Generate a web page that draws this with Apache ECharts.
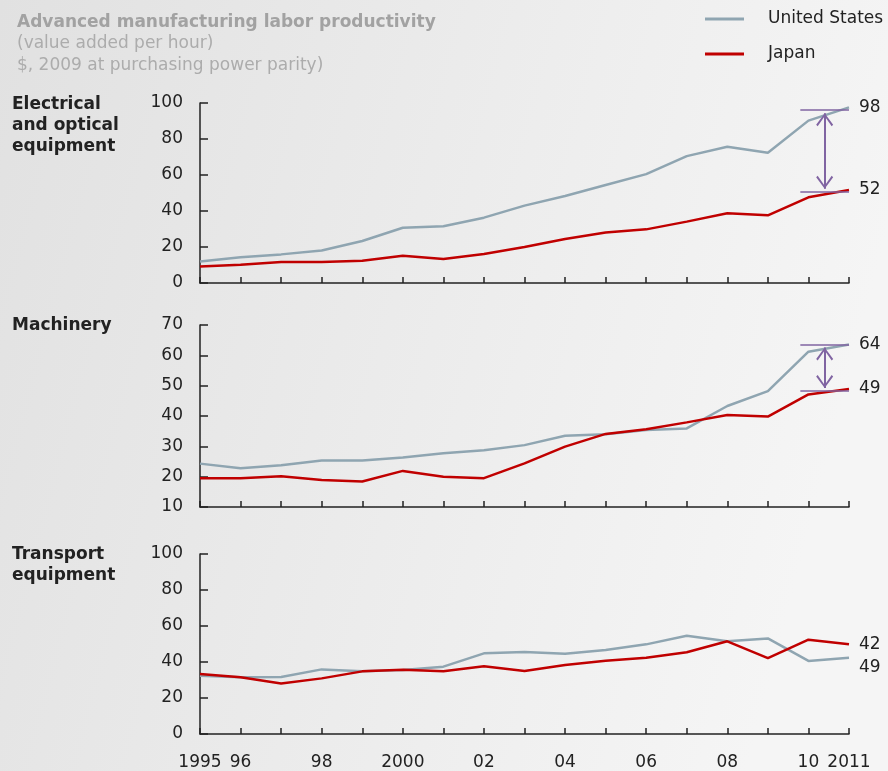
<!DOCTYPE html>
<html>
<head>
<meta charset="utf-8">
<script src="https://cdn.jsdelivr.net/npm/echarts@6/dist/echarts.min.js"></script>
<style>
  html, body { margin: 0; padding: 0; }
  #main { width: 888px; height: 771px; }
</style>
</head>
<body>
<div id="main"></div>
<script>
var years = [1995, 1996, 1997, 1998, 1999, 2000, 2001, 2002, 2003, 2004, 2005, 2006, 2007, 2008, 2009, 2010, 2011];
var xTickLabels = ['1995', '96', '', '98', '', '2000', '', '02', '', '04', '', '06', '', '08', '', '10', '2011'];
var panelNames = ['Electrical\nand optical\nequipment', 'Machinery', 'Transport\nequipment'];

var elecUS = [12, 14.3, 15.9, 18.1, 23.3, 30.7, 31.5, 36.3, 43, 48.3, 54.4, 60.5, 70.5, 75.7, 72.4, 90.2, 97.6];
var elecJP = [9.1, 10.2, 11.7, 11.7, 12.4, 15.2, 13.3, 16.1, 20, 24.4, 28.1, 29.8, 34.1, 38.7, 37.6, 47.6, 51.7];
var machUS = [24.3, 22.8, 23.8, 25.3, 25.3, 26.3, 27.7, 28.7, 30.4, 33.5, 34.0, 35.4, 35.9, 43.3, 48.2, 61.2, 63.6];
var machJP = [19.5, 19.5, 20.1, 18.9, 18.4, 21.9, 20.0, 19.5, 24.4, 29.9, 34.1, 35.6, 37.9, 40.3, 39.8, 47.1, 48.9];
var tranUS = [32.4, 31.5, 31.7, 35.9, 34.8, 35.6, 37.4, 44.8, 45.5, 44.6, 46.7, 49.8, 54.6, 51.5, 53.1, 40.6, 42.4];
var tranJP = [33.3, 31.5, 28.1, 30.9, 34.8, 35.7, 34.8, 37.6, 35, 38.3, 40.7, 42.4, 45.4, 51.5, 42.2, 52.4, 49.8];

// labels printed at the line ends (as in the source picture)
var endLabelsUS = ['98', '64', '49'];
var endLabelsJP = ['52', '49', '42'];

var yMin = [0, 10, 0];
var yMax = [100, 70, 100];
var yStep = [20, 10, 20];

// gap arrows on the first two panels
var gapArrowX = 2010.4;
var gapCapFrom = 2009.8, gapCapTo = 2011;
var gapCapHigh = [96.5, 63.4];
var gapCapLow = [50.5, 48.2];
var gapArrowHigh = [94.3, 62.6];
var gapArrowLow = [52.3, 49.2];

var usSeries = [elecUS, machUS, tranUS];
var jpSeries = [elecJP, machJP, tranJP];

var FONT = 'DejaVu Sans';
var US_COLOR = '#8fa5b1';
var JP_COLOR = '#c00000';
var GAP_COLOR = '#8064a2';
var INK = '#222';

var gridTops = [103, 325, 554];
var gridHeights = [180, 182, 180];

function pairs(vals) {
  return years.map(function (y, i) { return [y, vals[i]]; });
}

// open arrow head, tip at the top
var chevron = 'path://M0,0 L8.5,11.5 L7,13 L0,3 L-7,13 L-8.5,11.5 Z';

var grids = [], xAxes = [], yAxes = [], series = [];
for (var i = 0; i < 3; i++) {
  grids.push({ left: 200, width: 649, top: gridTops[i], height: gridHeights[i] });
  xAxes.push({
    type: 'value', gridIndex: i, min: 1995, max: 2011, interval: 1,
    axisLine: { show: true, lineStyle: { color: INK, width: 1.5 } },
    axisTick: { show: true, inside: true, length: 6, lineStyle: { color: INK, width: 1.5 } },
    splitLine: { show: false },
    axisLabel: {
      show: i === 2, margin: 20, fontSize: 17, color: INK, fontFamily: FONT,
      showMinLabel: true, showMaxLabel: true,
      formatter: function (v) { return xTickLabels[v - 1995] || ''; }
    }
  });
  yAxes.push({
    type: 'value', gridIndex: i, min: yMin[i], max: yMax[i], interval: yStep[i],
    axisLine: { show: true, lineStyle: { color: INK, width: 1.5 } },
    axisTick: { show: true, inside: true, length: 8, lineStyle: { color: INK, width: 1.5 } },
    splitLine: { show: false },
    axisLabel: { margin: 17, fontSize: 17, color: INK, fontFamily: FONT }
  });

  var us = {
    name: 'United States', type: 'line', xAxisIndex: i, yAxisIndex: i,
    data: pairs(usSeries[i]), symbol: 'none', color: US_COLOR,
    lineStyle: { color: US_COLOR, width: 2.5 },
    emphasis: { disabled: true }, silent: true, z: 2,
    endLabel: {
      show: true, distance: 10, fontSize: 17, color: INK, fontFamily: FONT,
      offset: i === 2 ? [0, 10] : [0, 0],
      formatter: endLabelsUS[i]
    }
  };
  if (i < 2) {
    us.markLine = {
      silent: true, animation: false,
      lineStyle: { color: GAP_COLOR, width: 1.5, type: 'solid' },
      label: { show: false },
      data: [
        [{ coord: [gapCapFrom, gapCapHigh[i]], symbol: 'none' }, { coord: [gapCapTo, gapCapHigh[i]], symbol: 'none' }],
        [{ coord: [gapCapFrom, gapCapLow[i]], symbol: 'none' }, { coord: [gapCapTo, gapCapLow[i]], symbol: 'none' }],
        [{ coord: [gapArrowX, gapArrowHigh[i]], symbol: chevron, symbolSize: [17, 13], symbolOffset: [0, 6.5],
           lineStyle: { width: 2 } },
         { coord: [gapArrowX, gapArrowLow[i]], symbol: chevron, symbolSize: [17, 13], symbolOffset: [0, 6.5] }]
      ]
    };
  }
  series.push(us);
  series.push({
    name: 'Japan', type: 'line', xAxisIndex: i, yAxisIndex: i,
    data: pairs(jpSeries[i]), symbol: 'none', color: JP_COLOR,
    lineStyle: { color: JP_COLOR, width: 2.5 },
    emphasis: { disabled: true }, silent: true, z: 3,
    endLabel: {
      show: true, distance: 10, fontSize: 17, color: INK, fontFamily: FONT,
      formatter: endLabelsJP[i]
    }
  });
}

var nameTops = [94, 315, 544];
var graphics = panelNames.map(function (t, i) {
  return {
    type: 'text', left: 12, top: nameTops[i], silent: true,
    style: { text: t, fill: INK, font: 'bold 17px "DejaVu Sans"', lineHeight: 21 }
  };
});

var myChart = echarts.init(document.getElementById('main'));
myChart.setOption({
  animation: false,
  backgroundColor: new echarts.graphic.LinearGradient(0, 0, 1, 0.3, [
    { offset: 0, color: '#e1e1e1' },
    { offset: 1, color: '#f5f5f5' }
  ]),
  title: {
    left: 12, top: 7, itemGap: 0,
    text: 'Advanced manufacturing labor productivity',
    subtext: '(value added per hour)\n$, 2009 at purchasing power parity)',
    textStyle: { fontFamily: FONT, fontSize: 17, fontWeight: 'bold', color: '#a2a2a2', lineHeight: 21 },
    subtextStyle: { fontFamily: FONT, fontSize: 17, color: '#acacac', lineHeight: 22 }
  },
  legend: {
    orient: 'vertical', left: 700, top: 5, itemGap: 17,
    icon: 'rect', itemWidth: 39, itemHeight: 3,
    data: ['United States', 'Japan'],
    selectedMode: false,
    textStyle: { fontFamily: FONT, fontSize: 17, color: INK, lineHeight: 18, padding: [0, 0, 0, 19] }
  },
  graphic: graphics,
  grid: grids,
  xAxis: xAxes,
  yAxis: yAxes,
  series: series
});
</script>
</body>
</html>
